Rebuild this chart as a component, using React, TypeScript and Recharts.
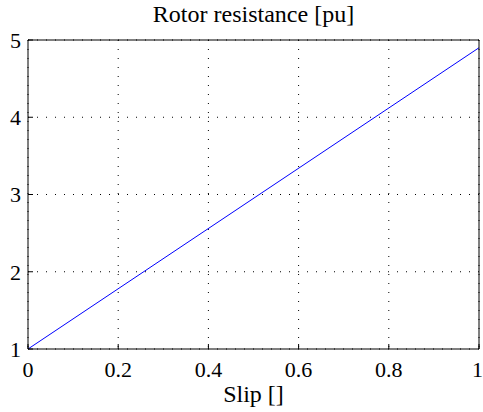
import { LineChart, Line, XAxis, YAxis, CartesianGrid } from "recharts";

const slip = [0, 1];
const resistance = [1, 4.9];
const xTicks = [0, 0.2, 0.4, 0.6, 0.8, 1];
const yTicks = [1, 2, 3, 4, 5];

const data = slip.map((s, i) => ({ slip: s, r: resistance[i] }));

const font = "'Liberation Serif', 'Times New Roman', serif";
const tickStyle = { fill: "#000", fontSize: 22, fontFamily: font };

export default function App() {
  return (
    <div
      style={{
        position: "absolute",
        left: 0,
        top: 0,
        width: 483,
        height: 412,
        background: "#fff",
      }}
    >
      <div
        style={{
          position: "absolute",
          left: 28,
          width: 451,
          top: 2,
          lineHeight: "24px",
          fontSize: 24,
          fontFamily: font,
          textAlign: "center",
          color: "#000",
        }}
      >
        Rotor resistance [pu]
      </div>
      <LineChart
        width={483}
        height={412}
        data={data}
        margin={{ top: 0, right: 0, bottom: 0, left: 0 }}
      >
        <CartesianGrid
          stroke="#000"
          strokeDasharray="1 8"
          horizontalValues={yTicks}
          verticalValues={xTicks}
        />
        <XAxis
          dataKey="slip"
          type="number"
          domain={[0, 1]}
          ticks={xTicks}
          height={63}
          axisLine={{ stroke: "#000" }}
          tickLine={{ stroke: "#000" }}
          tickSize={-5}
          tickMargin={17}
          tick={tickStyle}
          label={{
            value: "Slip []",
            position: "insideBottom",
            offset: 10,
            fill: "#000",
            fontSize: 24,
            fontFamily: font,
          }}
        />
        <XAxis
          xAxisId="top"
          orientation="top"
          dataKey="slip"
          type="number"
          domain={[0, 1]}
          ticks={xTicks}
          height={40}
          axisLine={{ stroke: "#000" }}
          tickLine={{ stroke: "#000" }}
          tickSize={-5}
          tick={false}
        />
        <YAxis
          type="number"
          domain={[1, 5]}
          ticks={yTicks}
          width={28}
          axisLine={{ stroke: "#000" }}
          tickLine={{ stroke: "#000" }}
          tickSize={-5}
          tickMargin={12}
          tick={tickStyle}
        />
        <YAxis
          yAxisId="right"
          orientation="right"
          type="number"
          domain={[1, 5]}
          ticks={yTicks}
          width={4}
          axisLine={{ stroke: "#000" }}
          tickLine={{ stroke: "#000" }}
          tickSize={-5}
          tick={false}
        />
        <Line
          dataKey="r"
          stroke="#0000ff"
          strokeWidth={1}
          dot={false}
          isAnimationActive={false}
        />
      </LineChart>
    </div>
  );
}
